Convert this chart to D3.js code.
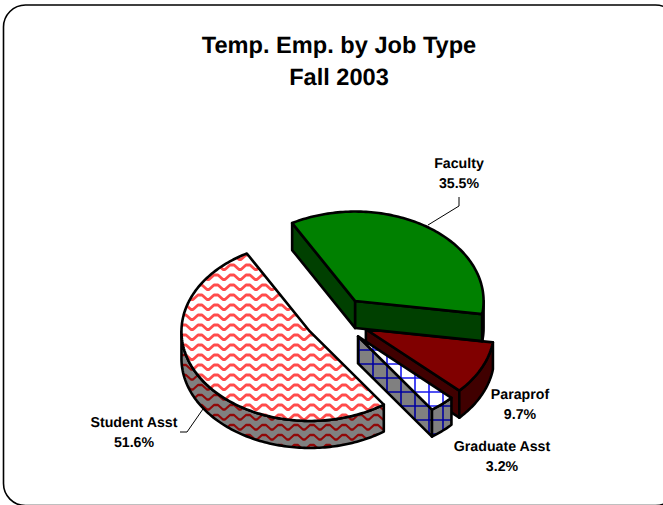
<!DOCTYPE html>
<html><head><meta charset="utf-8">
<script src="https://cdnjs.cloudflare.com/ajax/libs/d3/7.8.5/d3.min.js"></script>
<style>html,body{margin:0;padding:0;background:#fff;overflow:hidden}svg{display:block}text{font-family:"Liberation Sans",Arial,sans-serif;font-weight:bold;fill:#000;text-anchor:middle;text-rendering:geometricPrecision}</style>
</head><body><svg id="c" width="663" height="505"></svg>
<script>
const titleLines = ["Temp. Emp. by Job Type", "Fall 2003"];
const categories = ["Faculty", "Paraprof", "Graduate Asst", "Student Asst"];
const values = [35.5, 9.7, 3.2, 51.6];
const valueLabels = ["35.5%", "9.7%", "3.2%", "51.6%"];
const topFills = ["#008000", "#800000", "url(#gridTop)", "url(#waveTop)"];
const sideFills = ["#004000", "#400000", "url(#gridSide)", "url(#waveSide)"];
const drawOrder = [1, 2, 3, 0];
const labelCentres = [[459,168],[520,399],[502,451],[134,427]];
const leaders = {0:[[428,225],[459,206],[459,197]], 3:[[180,432],[187,432],[203,409]]};

const svg = d3.select("#c");
const defs = svg.append("defs");
function wave(id,bg,col,w){
  const p=defs.append("pattern").attr("id",id).attr("patternUnits","userSpaceOnUse").attr("width",16).attr("height",10).attr("y",2);
  p.append("rect").attr("width",16).attr("height",10).attr("fill",bg);
  p.append("path").attr("d","M-1,7.5H1L6,3H10L15,7.5H17").attr("fill","none").attr("stroke",col).attr("stroke-width",w).attr("stroke-linejoin","round");
}
function grid(id,bg,col){
  const p=defs.append("pattern").attr("id",id).attr("patternUnits","userSpaceOnUse").attr("width",14).attr("height",14).attr("y",-7);
  p.append("rect").attr("width",14).attr("height",14).attr("fill",bg);
  p.append("path").attr("d","M9,0V14M0,7H14").attr("fill","none").attr("stroke",col).attr("stroke-width",1.6);
}
wave("waveTop","#fff","#ff4c4c",2.8);wave("waveSide","#808080","#900808",2.3);
grid("gridTop","#fff","#1818f0");grid("gridSide","#808080","#0000a0");

svg.append("rect").attr("x",3.5).attr("y",5).attr("width",674).attr("height",500.6).attr("rx",22)
  .attr("fill","#fff").attr("stroke","#000").attr("stroke-width",1.6);

titleLines.forEach((t,i)=>svg.append("text").attr("x",339).attr("y",53+i*32).attr("font-size",23.6).text(t));

const O=[337,319.5], rx=128.4, ry=89.5, depth=27, explode=0.25;
const start=-29.4*Math.PI/180;
const arcs=d3.pie().sort(null).startAngle(start).endAngle(start+2*Math.PI)(values);
const line=d3.line();
function pt(c,t,dz=0){return [c[0]+rx*Math.sin(t), c[1]-ry*Math.cos(t)+dz];}
function arcPts(c,a,b,dz=0){const n=Math.max(2,Math.ceil(Math.abs(b-a)/0.02));return d3.range(n+1).map(i=>pt(c,a+(b-a)*i/n,dz));}
const stroke=(s)=>s.attr("stroke","#000").attr("stroke-width",2.6).attr("stroke-linejoin","round");

drawOrder.forEach(i=>{
  const d=arcs[i], a=d.startAngle, b=d.endAngle, m=(a+b)/2;
  const c=[O[0]+rx*explode*Math.sin(m), O[1]-ry*explode*Math.cos(m)];
  const g=svg.append("g");
  const wall=(t)=>g.append("path").attr("d",line([c,pt(c,t),pt(c,t,depth),[c[0],c[1]+depth]])+"Z").attr("fill",sideFills[i]).call(stroke);
  if(Math.cos(a-Math.PI/2)<0) wall(a);
  if(Math.cos(b+Math.PI/2)<0) wall(b);
  const lo=Math.max(a,Math.PI/2), hi=Math.min(b,1.5*Math.PI);
  if(hi>lo) g.append("path").attr("d",line([...arcPts(c,lo,hi),...arcPts(c,hi,lo,depth)])+"Z").attr("fill",sideFills[i]).call(stroke);
  g.append("path").attr("d",line([c,...arcPts(c,a,b)])+"Z").attr("fill",topFills[i]).call(stroke);
});

Object.entries(leaders).forEach(([k,p])=>svg.append("path").attr("d",line(p)).attr("fill","none").attr("stroke","#000").attr("stroke-width",1));
categories.forEach((name,i)=>{
  const [x,y]=labelCentres[i];
  svg.append("text").attr("x",x).attr("y",y).attr("font-size",14.2).text(name);
  svg.append("text").attr("x",x).attr("y",y+20).attr("font-size",14.2).text(valueLabels[i]);
});
</script></body></html>
